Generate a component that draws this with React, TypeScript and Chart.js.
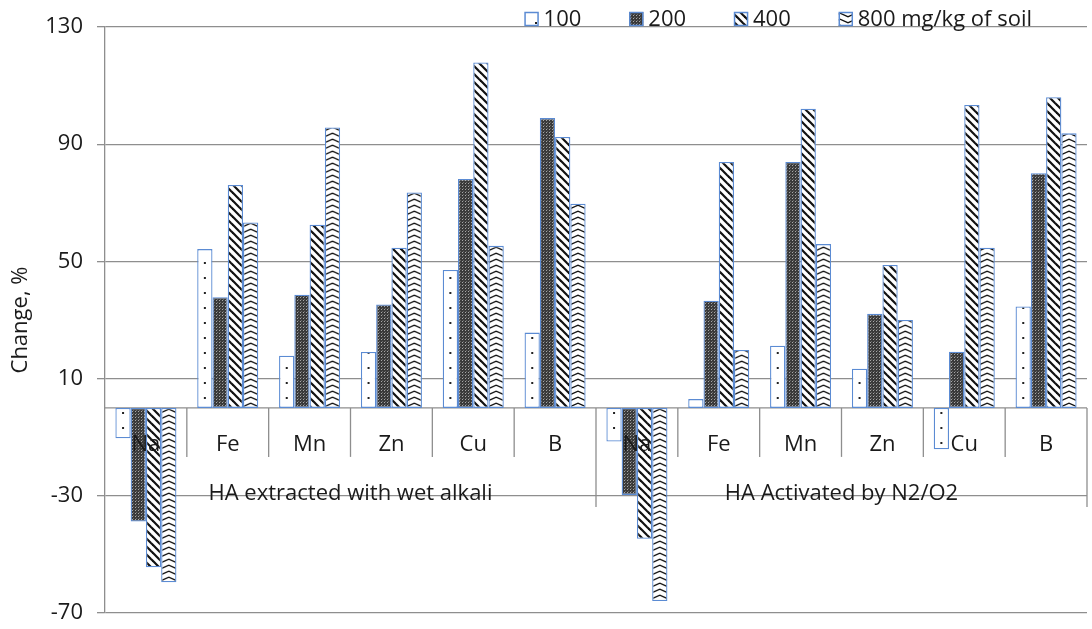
import React, { useEffect, useRef } from 'react';
import { Chart, registerables } from 'chart.js';

Chart.register(...registerables);

// ---- data ----
const categories = ['Na', 'Fe', 'Mn', 'Zn', 'Cu', 'B', 'Na', 'Fe', 'Mn', 'Zn', 'Cu', 'B'];
const groupLabels = ['HA extracted with wet alkali', 'HA Activated by N2/O2'];
const groupSize = 6;
const seriesLabels = ['100', '200', '400', '800 mg/kg of soil'];
const dose100 = [-10.4, 54.2, 17.8, 19.1, 47.1, 25.7, -11.5, 3.0, 21.2, 13.4, -14.1, 34.6];
const dose200 = [-38.8, 37.8, 38.6, 35.3, 78.1, 98.9, -29.7, 36.6, 83.9, 32.1, 19.2, 80.1];
const dose400 = [-54.4, 76.1, 62.5, 54.7, 117.9, 92.5, -44.7, 83.9, 102.1, 48.8, 103.4, 106.0];
const dose800 = [-59.5, 63.3, 95.7, 73.5, 55.3, 69.7, -65.9, 19.8, 55.9, 30.0, 54.7, 93.7];
const yTicks = [-70, -30, 10, 50, 90, 130];
const yTitle = 'Change, %';

const FONT = '"Open Sans", "DejaVu Sans", sans-serif';
const FONT_SIZE = 22;
const TEXT = '#1a1a1a';
const GRID = '#8e8e8e';
const BORDER = '#5b8bd3';
const CAT_PCT = 0.746;

type Kind = 'dots' | 'dense' | 'diag' | 'zigzag';

function makeTile(kind: Kind): HTMLCanvasElement {
  const c = document.createElement('canvas');
  let w = 8;
  let h = 8;
  if (kind === 'dots') { w = 16; h = 15; }
  if (kind === 'dense') { w = 3; h = 3; }
  if (kind === 'diag') { w = 8; h = 8; }
  if (kind === 'zigzag') { w = 16; h = 6; }
  c.width = w;
  c.height = h;
  const ctx = c.getContext('2d');
  if (!ctx) return c;
  ctx.fillStyle = '#ffffff';
  ctx.fillRect(0, 0, w, h);
  if (kind === 'dots') {
    ctx.fillStyle = '#222';
    ctx.fillRect(7, 7, 2, 2);
  } else if (kind === 'dense') {
    ctx.fillStyle = '#3a3a3a';
    ctx.fillRect(0, 0, w, h);
    ctx.fillStyle = '#a8a8a8';
    ctx.fillRect(0, 0, 1, 1);
    ctx.fillStyle = '#6a6a6a';
    ctx.fillRect(1, 2, 1, 1);
  } else if (kind === 'diag') {
    ctx.strokeStyle = '#111';
    ctx.lineWidth = 2.2;
    for (let x0 = -8; x0 <= 8; x0 += 8) {
      ctx.beginPath();
      ctx.moveTo(x0 - 1, -1);
      ctx.lineTo(x0 + 9, 9);
      ctx.stroke();
    }
  } else if (kind === 'zigzag') {
    ctx.strokeStyle = '#111';
    ctx.lineWidth = 1.4;
    ctx.beginPath();
    ctx.moveTo(-1, 5.2);
    ctx.lineTo(8, 1.2);
    ctx.lineTo(17, 5.2);
    ctx.stroke();
  }
  return c;
}

function patternFrom(tile: HTMLCanvasElement, dx = 0): CanvasPattern | string {
  const ctx = tile.getContext('2d');
  if (!ctx) return '#fff';
  const p = ctx.createPattern(tile, 'repeat');
  if (!p) return '#fff';
  if (dx && typeof DOMMatrix !== 'undefined' && (p as any).setTransform) {
    p.setTransform(new DOMMatrix().translate(dx, 0));
  }
  return p;
}

const axisPlugin = {
  id: 'groupedCategoryAxis',
  beforeDatasetsDraw(chart: any) {
    const { ctx, chartArea, scales } = chart;
    const y0 = scales.y.getPixelForValue(0);
    ctx.save();
    ctx.strokeStyle = GRID;
    ctx.lineWidth = 1.3;
    ctx.beginPath();
    ctx.moveTo(chartArea.left, y0);
    ctx.lineTo(chartArea.right, y0);
    ctx.stroke();
    ctx.restore();
  },
  afterDatasetsDraw(chart: any) {
    const { ctx, chartArea, scales } = chart;
    const xs = scales.x;
    const y0 = scales.y.getPixelForValue(0);
    ctx.save();
    ctx.strokeStyle = GRID;
    ctx.lineWidth = 1.3;
    const n = categories.length;
    const edge = (i: number) => {
      if (i <= 0) return chartArea.left;
      if (i >= n) return chartArea.right;
      return (xs.getPixelForValue(i - 1) + xs.getPixelForValue(i)) / 2;
    };
    for (let i = 1; i <= n; i++) {
      const x = edge(i);
      const long = i % groupSize === 0;
      ctx.beginPath();
      ctx.moveTo(x, y0);
      ctx.lineTo(x, y0 + (long ? 99 : 49));
      ctx.stroke();
    }
    ctx.fillStyle = TEXT;
    ctx.font = `${FONT_SIZE}px ${FONT}`;
    ctx.textAlign = 'center';
    ctx.textBaseline = 'alphabetic';
    categories.forEach((c, i) => {
      ctx.fillText(c, xs.getPixelForValue(i), y0 + 43);
    });
    groupLabels.forEach((g, gi) => {
      const a = edge(gi * groupSize);
      const b = edge((gi + 1) * groupSize);
      ctx.fillText(g, (a + b) / 2, y0 + 92);
    });
    ctx.restore();
  },
};

function makeLegendPlugin(patterns: (CanvasPattern | string)[]) {
  return {
    id: 'customLegend',
    afterDraw(chart: any) {
      const { ctx, chartArea } = chart;
      ctx.save();
      ctx.font = `${FONT_SIZE}px ${FONT}`;
      const box = 14;
      const gapText = 5;
      const gapItem = 48;
      const widths = seriesLabels.map((t) => ctx.measureText(t).width);
      const total = widths.reduce((a: number, w: number) => a + box + gapText + w, 0) + gapItem * (seriesLabels.length - 1);
      let x = chartArea.right - 55 - total;
      const base = chartArea.top - 1;
      seriesLabels.forEach((t, i) => {
        ctx.fillStyle = patterns[i];
        ctx.fillRect(x, base - box, box, box);
        ctx.strokeStyle = BORDER;
        ctx.lineWidth = 1.5;
        ctx.strokeRect(x + 0.5, base - box + 0.5, box - 1, box - 1);
        ctx.fillStyle = TEXT;
        ctx.textAlign = 'left';
        ctx.textBaseline = 'alphabetic';
        ctx.fillText(t, x + box + gapText, base);
        x += box + gapText + widths[i] + gapItem;
      });
      ctx.restore();
    },
  };
}

export default function App() {
  const ref = useRef<HTMLCanvasElement | null>(null);

  useEffect(() => {
    if (!ref.current) return;
    Chart.defaults.font.family = FONT;
    const kinds: Kind[] = ['dots', 'dense', 'diag', 'zigzag'];
    const tiles = kinds.map((k) => makeTile(k));
    const legendPatterns = tiles.map((t) => patternFrom(t));
    const values = [dose100, dose200, dose400, dose800];
    const nSeries = values.length;

    // pattern aligned to each bar's centre (for the centred motifs)
    const barBg = (si: number) => (c: any) => {
      const kind = kinds[si];
      if (kind !== 'zigzag' && kind !== 'dots') return legendPatterns[si];
      const xs = c.chart.scales && c.chart.scales.x;
      if (!xs || c.dataIndex === undefined) return legendPatterns[si];
      const catW = xs.width / categories.length;
      const barW = (catW * CAT_PCT) / nSeries;
      const cx = xs.getPixelForValue(c.dataIndex) + (si - (nSeries - 1) / 2) * barW;
      const tileW = tiles[si].width;
      return patternFrom(tiles[si], cx - tileW / 2);
    };

    const chart = new Chart(ref.current, {
      type: 'bar',
      data: {
        labels: categories,
        datasets: values.map((v, i) => ({
          label: seriesLabels[i],
          data: v,
          backgroundColor: barBg(i) as any,
          borderColor: BORDER,
          borderWidth: 1.3,
          borderSkipped: false,
          categoryPercentage: CAT_PCT,
          barPercentage: 1.0,
        })),
      },
      options: {
        animation: false,
        responsive: true,
        maintainAspectRatio: false,
        layout: { padding: { top: 27, right: 5, bottom: 16, left: 0 } },
        plugins: {
          legend: { display: false },
          tooltip: { enabled: false },
          title: { display: false },
        },
        scales: {
          x: {
            type: 'category',
            display: false,
            offset: true,
          },
          y: {
            min: -70,
            max: 130,
            afterBuildTicks: (s: any) => {
              s.ticks = yTicks.map((v) => ({ value: v }));
            },
            afterFit: (s: any) => {
              s.width = 105;
              s.paddingTop = 0;
              s.paddingBottom = 0;
            },
            border: { display: true, color: GRID, width: 1.3 },
            grid: {
              color: GRID,
              lineWidth: 1.3,
              drawTicks: true,
              tickLength: 8,
              tickColor: GRID,
            },
            ticks: {
              color: TEXT,
              font: { size: FONT_SIZE, family: FONT },
              padding: 14,
            },
            title: {
              display: true,
              text: yTitle,
              color: TEXT,
              font: { size: FONT_SIZE, family: FONT },
              padding: { top: 8, bottom: 0 },
            },
          },
        },
      },
      plugins: [axisPlugin, makeLegendPlugin(legendPatterns)],
    } as any);
    return () => chart.destroy();
  }, []);

  return (
    <div style={{ position: 'absolute', left: 0, top: 0, width: 1092, height: 629, background: '#fff' }}>
      <canvas ref={ref} />
    </div>
  );
}
